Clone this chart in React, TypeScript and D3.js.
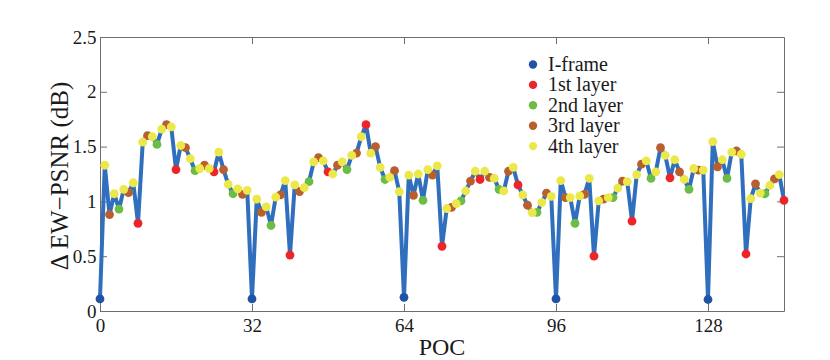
import React, { useEffect, useRef } from 'react'
import * as d3 from 'd3'

// delta EW-PSNR per POC (0..144), GOP 8 hierarchy, intra period 32
const deltaPsnr = [
  0.11, 1.33, 0.88, 1.07, 0.93, 1.11, 1.08, 1.17, 0.80, 1.54,
  1.60, 1.59, 1.52, 1.66, 1.70, 1.68, 1.29, 1.51, 1.49, 1.39,
  1.28, 1.30, 1.33, 1.30, 1.27, 1.45, 1.29, 1.155, 1.07, 1.115,
  1.065, 1.10, 0.11, 1.02, 0.90, 0.95, 0.78, 1.04, 1.06, 1.19,
  0.51, 1.15, 1.09, 1.125, 1.18, 1.36, 1.40, 1.37, 1.27, 1.25,
  1.33, 1.36, 1.29, 1.42, 1.44, 1.59, 1.70, 1.44, 1.50, 1.31,
  1.20, 1.22, 1.28, 1.09, 0.125, 1.24, 1.055, 1.25, 1.01, 1.29,
  1.24, 1.325, 0.59, 0.935, 0.945, 0.98, 1.005, 1.095, 1.185, 1.275,
  1.20, 1.275, 1.22, 1.21, 1.11, 1.095, 1.275, 1.31, 1.15, 1.06,
  0.965, 0.897, 0.90, 0.99, 1.075, 1.045, 0.11, 1.19, 1.035, 1.035,
  0.80, 1.05, 1.065, 1.21, 0.50, 1.005, 1.02, 1.035, 1.035, 1.12,
  1.185, 1.18, 0.82, 1.245, 1.34, 1.37, 1.21, 1.27, 1.49, 1.42,
  1.215, 1.38, 1.27, 1.20, 1.11, 1.30, 1.285, 1.285, 0.105, 1.545,
  1.315, 1.38, 1.21, 1.45, 1.46, 1.43, 0.52, 1.025, 1.16, 1.075,
  1.07, 1.145, 1.205, 1.245, 1.01,
]

const layerNames = ['I-frame', '1st layer', '2nd layer', '3rd layer', '4th layer']
const layerColors = ['#2152a6', '#ee2528', '#6cbd45', '#b95f2f', '#ece84a']
const xTicks = [0, 32, 64, 96, 128]
const yTicks = [0, 0.5, 1, 1.5, 2, 2.5]

// layer of a frame inside the hierarchical GOP of 8
function layerOf(poc: number) {
  if (poc % 32 === 0) return 0
  if (poc % 8 === 0) return 1
  if (poc % 4 === 0) return 2
  if (poc % 2 === 0) return 3
  return 4
}

const W = 830
const H = 360
const margin = { top: 37, right: 46, bottom: 49, left: 100 }

function Chart() {
  const ref = useRef<SVGSVGElement>(null)

  useEffect(() => {
    const svg = d3.select(ref.current)
    svg.selectAll('*').remove()

    const x = d3.scaleLinear().domain([0, 144]).range([margin.left, W - margin.right])
    const y = d3.scaleLinear().domain([0, 2.5]).range([H - margin.bottom, margin.top])

    const font = '"Liberation Serif", "Times New Roman", serif'
    const axisColor = '#6e6e6e'

    const styleAxis = (g: any) => {
      g.select('.domain').attr('stroke', axisColor)
      g.selectAll('.tick line').attr('stroke', axisColor)
      g.selectAll('.tick text').attr('fill', '#1a1a1a').attr('font-family', font).attr('font-size', 19)
    }

    svg.append('g')
      .attr('transform', `translate(0,${y(0)})`)
      .call(d3.axisBottom(x).tickValues(xTicks).tickSizeInner(-7).tickSizeOuter(0).tickPadding(7.5).tickFormat(d3.format('d')))
      .call(styleAxis)

    svg.append('g')
      .attr('transform', `translate(0,${y(2.5)})`)
      .call(d3.axisTop(x).tickValues(xTicks).tickSizeInner(-7).tickSizeOuter(0).tickFormat(() => ''))
      .call(styleAxis)

    svg.append('g')
      .attr('transform', `translate(${x(0)},0)`)
      .call(d3.axisLeft(y).tickValues(yTicks).tickSizeInner(-7).tickSizeOuter(0).tickPadding(3.5).tickFormat(d => String(d)))
      .call(styleAxis)

    svg.append('g')
      .attr('transform', `translate(${x(144)},0)`)
      .call(d3.axisRight(y).tickValues(yTicks).tickSizeInner(-7).tickSizeOuter(0).tickFormat(() => ''))
      .call(styleAxis)

    // axis titles
    svg.append('text')
      .attr('x', (x(0) + x(144)) / 2)
      .attr('y', 355)
      .attr('text-anchor', 'middle')
      .attr('font-family', font)
      .attr('font-size', 24)
      .attr('fill', '#1a1a1a')
      .text('POC')

    svg.append('text')
      .attr('transform', `translate(68,176) rotate(-90)`)
      .attr('text-anchor', 'middle')
      .attr('font-family', font)
      .attr('font-size', 25)
      .attr('fill', '#1a1a1a')
      .text('\u0394 EW\u2212PSNR (dB)')

    const line = d3.line<number>()
      .x((d, i) => x(i))
      .y(d => y(d))

    svg.append('path')
      .datum(deltaPsnr)
      .attr('fill', 'none')
      .attr('stroke', '#2f6fbd')
      .attr('stroke-width', 4)
      .attr('stroke-linejoin', 'round')
      .attr('d', line)

    const points = deltaPsnr.map((v, i) => ({ poc: i, v, layer: layerOf(i) }))

    // one series per layer, drawn in legend order
    layerNames.forEach((name, li) => {
      svg.append('g')
        .attr('fill', layerColors[li])
        .selectAll('circle')
        .data(points.filter(p => p.layer === li))
        .join('circle')
        .attr('cx', d => x(d.poc))
        .attr('cy', d => y(d.v))
        .attr('r', 4.4)
    })

    // legend
    const legend = svg.append('g').attr('transform', 'translate(533,64.5)')
    layerNames.forEach((name, i) => {
      legend.append('circle').attr('cx', 0).attr('cy', i * 20.4).attr('r', 4.2).attr('fill', layerColors[i])
      legend.append('text')
        .attr('x', 15)
        .attr('y', i * 20.4 + 6.5)
        .attr('font-family', font)
        .attr('font-size', 20)
        .attr('fill', '#1a1a1a')
        .text(name)
    })
  }, [])

  return <svg ref={ref} width={W} height={H} style={{ position: 'absolute', left: 0, top: 0, background: '#fff' }} />
}

export default function App() {
  return <Chart />
}
